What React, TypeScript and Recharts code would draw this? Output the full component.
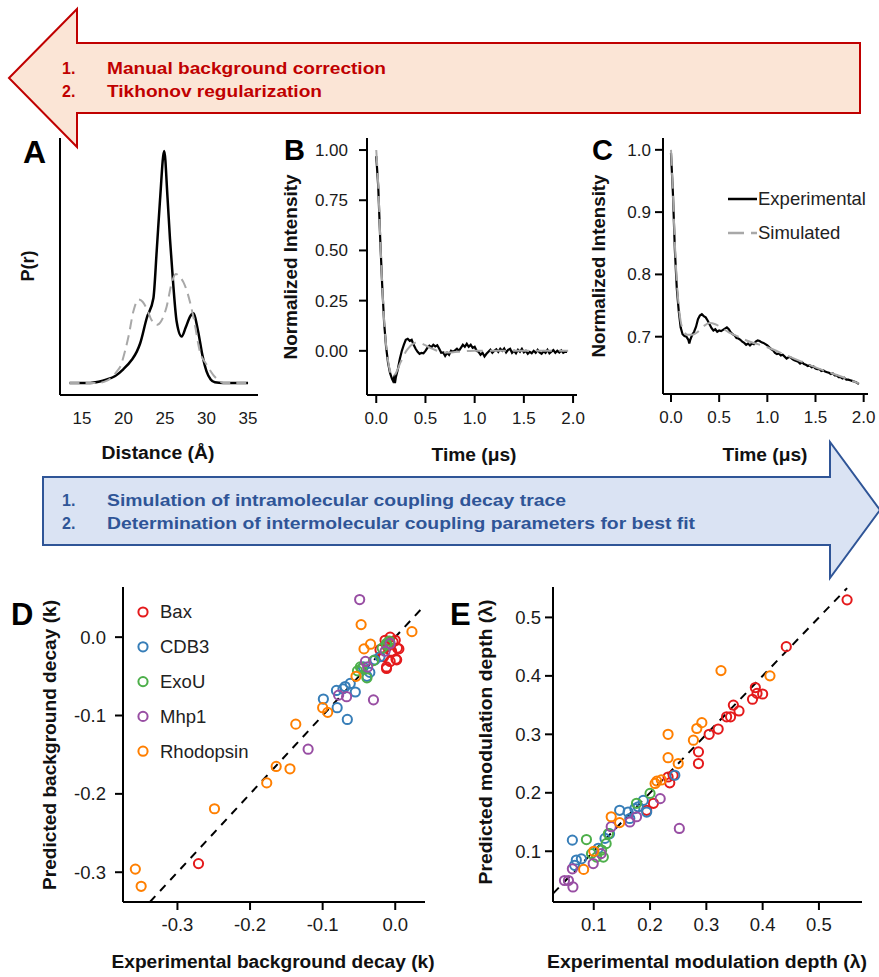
import React from "react";
import {
  LineChart,
  Line,
  XAxis,
  YAxis,
  ScatterChart,
  Scatter,
  ReferenceLine,
  Legend,
} from "recharts";

const FONT = "'Liberation Sans', Arial, Helvetica, sans-serif";

// ---- Panel A: distance distributions P(r) ----
const aDistExp = [13.5, 16, 17, 18, 19, 20, 21, 21.6, 22, 22.8, 23.6, 24, 24.4, 24.9, 25.3, 25.6, 26, 26.4, 27, 27.5, 28, 28.4, 29, 29.5, 30, 30.5, 31, 32, 35];
const aProbExp = [0, 0, 0.005, 0.015, 0.03, 0.06, 0.1, 0.135, 0.17, 0.28, 0.365, 0.57, 0.79, 1.0, 0.8, 0.62, 0.42, 0.265, 0.2, 0.24, 0.285, 0.3, 0.22, 0.12, 0.05, 0.015, 0.003, 0, 0];
const aDistSim = [13.5, 17, 18, 18.5, 19.2, 19.6, 20.2, 20.6, 21.2, 21.8, 22.3, 22.8, 23.4, 24, 24.6, 25.2, 25.8, 26.3, 26.7, 27.4, 28, 28.5, 29.2, 30, 30.8, 31.5, 32, 35];
const aProbSim = [0, 0, 0.01, 0.02, 0.05, 0.07, 0.14, 0.2, 0.31, 0.36, 0.35, 0.32, 0.27, 0.25, 0.27, 0.33, 0.43, 0.47, 0.46, 0.42, 0.35, 0.27, 0.135, 0.08, 0.035, 0.01, 0, 0];
const aTicks = [15, 20, 25, 30, 35];

// ---- Panel B: intramolecular decay trace ----
const bTimeExp = [0, 0.02, 0.04, 0.06, 0.08, 0.1, 0.12, 0.14, 0.16, 0.17, 0.18, 0.19, 0.2, 0.22, 0.24, 0.26, 0.28, 0.3, 0.32, 0.34, 0.36, 0.38, 0.4, 0.42, 0.44, 0.46, 0.48, 0.5, 0.52, 0.54, 0.56, 0.58, 0.6, 0.62, 0.64, 0.66, 0.68, 0.7, 0.72, 0.74, 0.76, 0.78, 0.8, 0.82, 0.84, 0.86, 0.88, 0.9, 0.92, 0.94, 0.96, 0.98, 1.0, 1.02, 1.04, 1.06, 1.08, 1.1, 1.12, 1.14, 1.16, 1.18, 1.2, 1.22, 1.24, 1.26, 1.28, 1.3, 1.32, 1.34, 1.36, 1.38, 1.4, 1.42, 1.44, 1.46, 1.48, 1.5, 1.52, 1.54, 1.56, 1.58, 1.6, 1.62, 1.64, 1.66, 1.68, 1.7, 1.72, 1.74, 1.76, 1.78, 1.8, 1.82, 1.84, 1.86, 1.88, 1.9, 1.92, 1.94];
const bIntExp = [0.97, 0.82, 0.56, 0.33, 0.14, 0.02, -0.06, -0.11, -0.14, -0.15, -0.135, -0.16, -0.13, -0.09, -0.04, 0.0, 0.03, 0.055, 0.06, 0.05, 0.055, 0.03, 0.01, -0.005, -0.015, -0.01, -0.012, 0.0, 0.015, 0.025, 0.018, 0.03, 0.022, 0.028, 0.01, -0.01, -0.008, -0.025, -0.01, -0.02, 0.0, -0.005, 0.002, 0.01, 0.0, 0.015, 0.03, 0.02, 0.035, 0.02, 0.03, 0.015, 0.02, 0.0, -0.005, -0.02, -0.01, -0.028, -0.015, -0.005, 0.005, -0.01, 0.0, 0.008, -0.005, 0.01, 0.0, 0.012, -0.008, 0.005, 0.01, -0.01, 0.0, -0.012, 0.005, -0.005, 0.01, -0.008, 0.0, -0.015, -0.005, -0.012, 0.0, -0.01, 0.005, -0.008, -0.015, -0.002, -0.01, 0.005, -0.012, -0.004, 0.004, -0.01, 0.0, -0.008, 0.002, -0.01, -0.004, -0.006];
const bTimeSim = [0, 0.02, 0.04, 0.06, 0.08, 0.1, 0.12, 0.14, 0.16, 0.18, 0.2, 0.22, 0.24, 0.26, 0.28, 0.3, 0.33, 0.36, 0.4, 0.44, 0.48, 0.52, 0.56, 0.6, 0.65, 0.7, 0.75, 0.8, 0.9, 1.0, 1.1, 1.2, 1.4, 1.6, 1.8, 1.95];
const bIntSim = [1.0, 0.83, 0.57, 0.34, 0.15, 0.03, -0.05, -0.1, -0.12, -0.125, -0.11, -0.09, -0.065, -0.045, -0.025, -0.005, 0.015, 0.03, 0.04, 0.04, 0.032, 0.022, 0.012, 0.004, -0.004, -0.008, -0.008, -0.006, -0.002, 0.0, 0.001, 0.0, 0.0, 0.0, 0.0, 0.0];
const bIntTicks = [0, 0.25, 0.5, 0.75, 1];
const timeTicks = [0, 0.5, 1, 1.5, 2];

// ---- Panel C: full decay trace with background ----
const cTimeExp = [0, 0.02, 0.04, 0.06, 0.08, 0.1, 0.12, 0.14, 0.16, 0.18, 0.19, 0.2, 0.22, 0.24, 0.26, 0.28, 0.3, 0.32, 0.34, 0.36, 0.38, 0.4, 0.42, 0.44, 0.46, 0.48, 0.5, 0.52, 0.54, 0.56, 0.58, 0.6, 0.62, 0.64, 0.66, 0.68, 0.7, 0.72, 0.74, 0.76, 0.78, 0.8, 0.82, 0.84, 0.86, 0.88, 0.9, 0.92, 0.94, 0.96, 0.98, 1.0, 1.02, 1.04, 1.06, 1.08, 1.1, 1.12, 1.14, 1.16, 1.18, 1.2, 1.22, 1.24, 1.26, 1.28, 1.3, 1.32, 1.34, 1.36, 1.38, 1.4, 1.42, 1.44, 1.46, 1.48, 1.5, 1.52, 1.54, 1.56, 1.58, 1.6, 1.62, 1.64, 1.66, 1.68, 1.7, 1.72, 1.74, 1.76, 1.78, 1.8, 1.82, 1.84, 1.86, 1.88, 1.9, 1.92, 1.94, 1.95];
const cIntExp = [0.995, 0.93, 0.84, 0.778, 0.742, 0.715, 0.704, 0.701, 0.7, 0.695, 0.689, 0.695, 0.703, 0.708, 0.716, 0.728, 0.734, 0.736, 0.733, 0.731, 0.726, 0.72, 0.714, 0.71, 0.712, 0.708, 0.71, 0.709, 0.711, 0.713, 0.715, 0.712, 0.707, 0.704, 0.702, 0.698, 0.697, 0.695, 0.692, 0.69, 0.687, 0.689, 0.686, 0.689, 0.688, 0.692, 0.694, 0.693, 0.691, 0.69, 0.688, 0.686, 0.683, 0.68, 0.678, 0.674, 0.672, 0.673, 0.67, 0.671, 0.668, 0.665, 0.667, 0.667, 0.664, 0.662, 0.661, 0.66, 0.657, 0.659, 0.656, 0.655, 0.653, 0.654, 0.651, 0.652, 0.649, 0.648, 0.648, 0.645, 0.646, 0.644, 0.643, 0.642, 0.64, 0.641, 0.638, 0.638, 0.635, 0.635, 0.633, 0.634, 0.631, 0.631, 0.63, 0.629, 0.628, 0.627, 0.625, 0.624];
const cTimeSim = [0, 0.02, 0.04, 0.06, 0.08, 0.1, 0.13, 0.17, 0.22, 0.28, 0.34, 0.4, 0.46, 0.52, 0.6, 0.7, 0.8, 0.9, 1.0, 1.2, 1.4, 1.6, 1.8, 1.95];
const cIntSim = [1.0, 0.93, 0.85, 0.79, 0.75, 0.725, 0.71, 0.703, 0.703, 0.708, 0.717, 0.722, 0.72, 0.715, 0.707, 0.7, 0.693, 0.688, 0.683, 0.67, 0.657, 0.645, 0.634, 0.625];
const cIntTicks = [0.7, 0.8, 0.9, 1.0];

// ---- Panel D: background decay k, [experimental, predicted] ----
const baxK = [[-0.271, -0.289], [-0.014, -0.004], [-0.007, 0.0], [0.0, -0.004], [0.003, -0.014], [0.001, -0.028], [-0.012, -0.04], [-0.007, -0.031], [-0.005, -0.018], [-0.016, -0.025], [-0.021, -0.016], [-0.011, -0.012], [0.002, -0.029], [-0.012, -0.038], [-0.003, -0.006], [0.005, -0.015]];
const cdb3K = [[-0.099, -0.079], [-0.08, -0.09], [-0.066, -0.105], [-0.081, -0.068], [-0.069, -0.063], [-0.055, -0.07], [-0.039, -0.05], [-0.028, -0.029], [-0.021, -0.025], [-0.044, -0.038], [-0.062, -0.059], [-0.035, -0.045], [-0.072, -0.066]];
const exouK = [[-0.012, -0.008], [-0.018, -0.014], [-0.048, -0.038], [-0.039, -0.052], [-0.052, -0.043], [-0.012, -0.01], [-0.046, -0.04], [-0.03, -0.03], [-0.008, -0.005]];
const mhp1K = [[-0.049, 0.048], [-0.03, -0.08], [-0.12, -0.143], [-0.041, -0.031], [-0.067, -0.076], [-0.078, -0.074], [-0.007, -0.008], [-0.014, -0.018], [-0.038, -0.038]];
const rhodK = [[-0.358, -0.296], [-0.35, -0.318], [-0.249, -0.219], [-0.177, -0.186], [-0.164, -0.165], [-0.145, -0.168], [-0.137, -0.111], [-0.1, -0.09], [-0.093, -0.096], [-0.054, -0.05], [-0.047, 0.016], [-0.043, -0.015], [-0.034, -0.009], [0.023, 0.007]];
const dTicks = [-0.3, -0.2, -0.1, 0];

// ---- Panel E: modulation depth lambda, [experimental, predicted] ----
const baxL = [[0.55, 0.53], [0.442, 0.45], [0.387, 0.38], [0.39, 0.37], [0.4, 0.369], [0.382, 0.36], [0.348, 0.35], [0.343, 0.33], [0.336, 0.33], [0.358, 0.34], [0.321, 0.309], [0.305, 0.3], [0.286, 0.27], [0.286, 0.25], [0.241, 0.23], [0.235, 0.217], [0.232, 0.227], [0.206, 0.182], [0.194, 0.17]];
const cdb3L = [[0.062, 0.119], [0.146, 0.17], [0.161, 0.167], [0.173, 0.173], [0.188, 0.187], [0.179, 0.176], [0.194, 0.167], [0.244, 0.23], [0.164, 0.156], [0.108, 0.105], [0.078, 0.087], [0.069, 0.085], [0.12, 0.122], [0.066, 0.076], [0.128, 0.13]];
const exouL = [[0.087, 0.12], [0.117, 0.09], [0.126, 0.13], [0.2, 0.199], [0.176, 0.182], [0.114, 0.102], [0.105, 0.09], [0.096, 0.096], [0.122, 0.113]];
const mhp1L = [[0.252, 0.139], [0.218, 0.19], [0.164, 0.15], [0.176, 0.159], [0.048, 0.05], [0.063, 0.039], [0.062, 0.07], [0.099, 0.079], [0.055, 0.05], [0.113, 0.096], [0.131, 0.142]];
const rhodL = [[0.326, 0.409], [0.413, 0.4], [0.292, 0.32], [0.283, 0.31], [0.277, 0.29], [0.232, 0.3], [0.232, 0.26], [0.25, 0.25], [0.212, 0.22], [0.22, 0.222], [0.209, 0.216], [0.131, 0.159], [0.146, 0.149], [0.1, 0.1], [0.082, 0.069]];
const eTicks = [0.1, 0.2, 0.3, 0.4, 0.5];

const proteins = ["Bax", "CDB3", "ExoU", "Mhp1", "Rhodopsin"];
const proteinColors = ["#e41a1c", "#377eb8", "#4daf4a", "#984ea3", "#ff7f00"];
const kSets = [baxK, cdb3K, exouK, mhp1K, rhodK];
const lSets = [baxL, cdb3L, exouL, mhp1L, rhodL];

const zip = (xs: number[], ys: number[]) => xs.map((x, i) => ({ x, y: ys[i] }));
const toPts = (pairs: number[][]) => pairs.map(([x, y]) => ({ x, y }));

const axisLine = { stroke: "#000", strokeWidth: 2 };
const tickLine = { stroke: "#000", strokeWidth: 2 };

const ring = (color: string) => (p: any) => (
  <circle cx={p.cx} cy={p.cy} r={4.6} fill="none" stroke={color} strokeWidth={2} />
);

function ProteinLegend(props: any) {
  const items = props.payload || [];
  return (
    <svg width={140} height={180}>
      {items.map((it: any, i: number) => (
        <g key={it.value}>
          <circle cx={8} cy={12 + i * 34.8} r={4.6} fill="none" stroke={it.color} strokeWidth={2} />
          <text x={25} y={12 + i * 34.8} dy="0.35em" fontSize={18.5} fill="#222" fontFamily={FONT}>
            {it.value}
          </text>
        </g>
      ))}
    </svg>
  );
}

function TraceLegend(props: any) {
  const items = props.payload || [];
  return (
    <svg width={150} height={70}>
      {items.map((it: any, i: number) => (
        <g key={it.value}>
          <line x1={0} x2={29} y1={12 + i * 34} y2={12 + i * 34} stroke={it.color} strokeWidth={2.5} strokeDasharray={it.payload?.strokeDasharray} />
          <text x={30} y={12 + i * 34} dy="0.35em" fontSize={18.5} fill="#222" fontFamily={FONT}>
            {it.value}
          </text>
        </g>
      ))}
    </svg>
  );
}

function Title({ x, y, text, len, rotate, size = 18 }: { x: number; y: number; text: string; len?: number; rotate?: boolean; size?: number }) {
  return (
    <text
      x={x}
      y={y}
      transform={rotate ? `rotate(-90 ${x} ${y})` : undefined}
      textAnchor="middle"
      dominantBaseline="central"
      fontWeight="bold"
      fontSize={size}
      fill="#111"
      textLength={len}
      lengthAdjust="spacingAndGlyphs"
    >
      {text}
    </text>
  );
}

function ArrowText({ y, lines, color }: { y: number; lines: [string, number][]; color: string }) {
  return (
    <g fill={color} fontWeight="bold" fontSize={16}>
      {lines.map(([t, len], i) => (
        <g key={t}>
          <text x={62} y={y + i * 23}>{`${i + 1}.`}</text>
          <text x={107} y={y + i * 23} textLength={len} lengthAdjust="spacingAndGlyphs">
            {t}
          </text>
        </g>
      ))}
    </g>
  );
}

const f1 = (v: number) => v.toFixed(1);
const f2 = (v: number) => v.toFixed(2);

export default function App() {
  const dLo = -0.338;
  const dHi = 0.041;
  const eLo = 0.028;
  const eHi = 0.55;
  return (
    <div style={{ position: "absolute", left: 0, top: 0, width: 879, height: 977, background: "#fff", fontFamily: FONT, overflow: "hidden" }}>
      <svg width={879} height={977} style={{ position: "absolute", left: 0, top: 0 }} fontFamily={FONT}>
        <polygon points="9,78 77,9 77,43 860,43 860,113 77,113 77,147" fill="#fbe5d6" stroke="#c00000" strokeWidth={2} />
        <polygon points="43,477 830,477 830,442 880,510 830,578 830,545 43,545" fill="#dae3f3" stroke="#2f5597" strokeWidth={2} />
        <ArrowText y={74} color="#c00000" lines={[["Manual  background  correction", 279], ["Tikhonov  regularization", 215]]} />
        <ArrowText y={506} color="#2f5597" lines={[["Simulation  of intramolecular  coupling  decay trace", 459], ["Determination  of intermolecular  coupling  parameters for best fit", 588]]} />

        <text x={23} y={163} fontSize={32} fontWeight="bold">A</text>
        <text x={284} y={160} fontSize={29} fontWeight="bold">B</text>
        <text x={592} y={160} fontSize={29} fontWeight="bold">C</text>
        <text x={11} y={625} fontSize={31} fontWeight="bold">D</text>
        <text x={450} y={625} fontSize={31} fontWeight="bold">E</text>

        <Title x={28} y={266} text="P(r)" rotate />
        <Title x={158} y={453} text="Distance (Å)" len={113} />
        <Title x={291} y={267} text="Normalized Intensity" rotate len={185} />
        <Title x={474} y={455} text="Time (μs)" len={85} />
        <Title x={599} y={266} text="Normalized Intensity" rotate len={183} />
        <Title x={765} y={455} text="Time (μs)" len={85} />
        <Title x={50} y={745} text="Predicted background decay (k)" rotate len={290} />
        <Title x={273} y={962} text="Experimental background decay (k)" len={323} />
        <Title x={486} y={742} text="Predicted modulation depth (λ)" rotate len={285} />
        <Title x={707} y={962} text="Experimental modulation depth (λ)" len={320} />
      </svg>

      {/* A */}
      <div style={{ position: "absolute", left: 0, top: 130 }}>
        <LineChart width={270} height={330} margin={{ top: 8, right: 12, bottom: 0, left: 0 }}>
          <XAxis type="number" dataKey="x" domain={[12.35, 36.2]} ticks={aTicks} allowDataOverflow height={65} axisLine={axisLine} tickLine={false} tickSize={8} tickMargin={9} tick={{ fontSize: 17, fill: "#1a1a1a" }} />
          <YAxis type="number" dataKey="y" domain={[-0.052, 1.056]} allowDataOverflow width={60} axisLine={axisLine} tickLine={false} tick={false} />
          <Line data={zip(aDistExp, aProbExp)} dataKey="y" type="monotone" stroke="#000" strokeWidth={2.5} dot={false} isAnimationActive={false} />
          <Line data={zip(aDistSim, aProbSim)} dataKey="y" type="monotone" stroke="#a8a8a8" strokeWidth={2} strokeDasharray="10 6" dot={false} isAnimationActive={false} />
        </LineChart>
      </div>

      {/* B */}
      <div style={{ position: "absolute", left: 290, top: 130 }}>
        <LineChart width={300} height={330} margin={{ top: 8, right: 13, bottom: 0, left: 0 }}>
          <XAxis type="number" dataKey="x" domain={[-0.094, 2.04]} ticks={timeTicks} tickFormatter={f1} allowDataOverflow height={65} axisLine={axisLine} tickLine={tickLine} tickSize={8} tickMargin={9} tick={{ fontSize: 17, fill: "#1a1a1a" }} />
          <YAxis type="number" dataKey="y" domain={[-0.22, 1.06]} ticks={bIntTicks} tickFormatter={f2} allowDataOverflow width={77} axisLine={axisLine} tickLine={tickLine} tickSize={8} tickMargin={11} tick={{ fontSize: 17, fill: "#1a1a1a" }} />
          <Line data={zip(bTimeExp, bIntExp)} dataKey="y" name="Experimental" type="linear" stroke="#000" strokeWidth={2.2} dot={false} isAnimationActive={false} />
          <Line data={zip(bTimeSim, bIntSim)} dataKey="y" name="Simulated" type="monotone" stroke="#a8a8a8" strokeWidth={2} strokeDasharray="16 7" dot={false} isAnimationActive={false} />
        </LineChart>
      </div>

      {/* C */}
      <div style={{ position: "absolute", left: 590, top: 130 }}>
        <LineChart width={289} height={330} margin={{ top: 8, right: 11, bottom: 0, left: 0 }}>
          <XAxis type="number" dataKey="x" domain={[-0.083, 2.045]} ticks={timeTicks} tickFormatter={f1} allowDataOverflow height={66} axisLine={axisLine} tickLine={tickLine} tickSize={8} tickMargin={9} tick={{ fontSize: 17, fill: "#1a1a1a" }} />
          <YAxis type="number" dataKey="y" domain={[0.608, 1.019]} ticks={cIntTicks} tickFormatter={f1} allowDataOverflow width={73} axisLine={axisLine} tickLine={tickLine} tickSize={8} tickMargin={4} tick={{ fontSize: 17, fill: "#1a1a1a" }} />
          <Line data={zip(cTimeExp, cIntExp)} dataKey="y" name="Experimental" type="linear" stroke="#000" strokeWidth={2.2} dot={false} isAnimationActive={false} />
          <Line data={zip(cTimeSim, cIntSim)} dataKey="y" name="Simulated" type="monotone" stroke="#a8a8a8" strokeWidth={2} strokeDasharray="16 7" dot={false} isAnimationActive={false} />
          <Legend layout="vertical" align="center" verticalAlign="middle" content={TraceLegend} wrapperStyle={{ left: 138, top: 57, width: 150, height: 70 }} />
        </LineChart>
      </div>

      {/* D */}
      <div style={{ position: "absolute", left: 60, top: 579 }}>
        <ScatterChart width={380} height={360} margin={{ top: 8, right: 15, bottom: 0, left: 0 }}>
          <XAxis type="number" dataKey="x" domain={[-0.375, 0.041]} ticks={dTicks} tickFormatter={f1} allowDataOverflow height={37} axisLine={axisLine} tickLine={tickLine} tickSize={8} tickMargin={8} tick={{ fontSize: 18.5, fill: "#1a1a1a" }} />
          <YAxis type="number" dataKey="y" domain={[-0.338, 0.064]} ticks={dTicks} tickFormatter={f1} allowDataOverflow width={63} axisLine={axisLine} tickLine={tickLine} tickSize={8} tickMargin={9} tick={{ fontSize: 18.5, fill: "#1a1a1a" }} />
          {proteins.map((name, i) => (
            <Scatter key={name} name={name} data={toPts(kSets[i])} fill={proteinColors[i]} shape={ring(proteinColors[i])} isAnimationActive={false} />
          ))}
          <ReferenceLine segment={[{ x: dLo, y: dLo }, { x: dHi, y: dHi }]} stroke="#000" strokeWidth={2} strokeDasharray="8 7" ifOverflow="visible" />
          <Legend layout="vertical" align="center" verticalAlign="middle" content={ProteinLegend} wrapperStyle={{ left: 75, top: 21, width: 140, height: 180 }} />
        </ScatterChart>
      </div>

      {/* E */}
      <div style={{ position: "absolute", left: 490, top: 579 }}>
        <ScatterChart width={385} height={360} margin={{ top: 8, right: 13, bottom: 0, left: 0 }}>
          <XAxis type="number" dataKey="x" domain={[0.0276, 0.5765]} ticks={eTicks} tickFormatter={f1} allowDataOverflow height={37} axisLine={axisLine} tickLine={tickLine} tickSize={8} tickMargin={8} tick={{ fontSize: 18.5, fill: "#1a1a1a" }} />
          <YAxis type="number" dataKey="y" domain={[0.0132, 0.552]} ticks={eTicks} tickFormatter={f1} allowDataOverflow width={63} axisLine={axisLine} tickLine={tickLine} tickSize={8} tickMargin={4} tick={{ fontSize: 18.5, fill: "#1a1a1a" }} />
          {proteins.map((name, i) => (
            <Scatter key={name} name={name} data={toPts(lSets[i])} fill={proteinColors[i]} shape={ring(proteinColors[i])} isAnimationActive={false} />
          ))}
          <ReferenceLine segment={[{ x: eLo, y: eLo }, { x: eHi, y: eHi }]} stroke="#000" strokeWidth={2} strokeDasharray="8 7" ifOverflow="visible" />
        </ScatterChart>
      </div>
    </div>
  );
}
